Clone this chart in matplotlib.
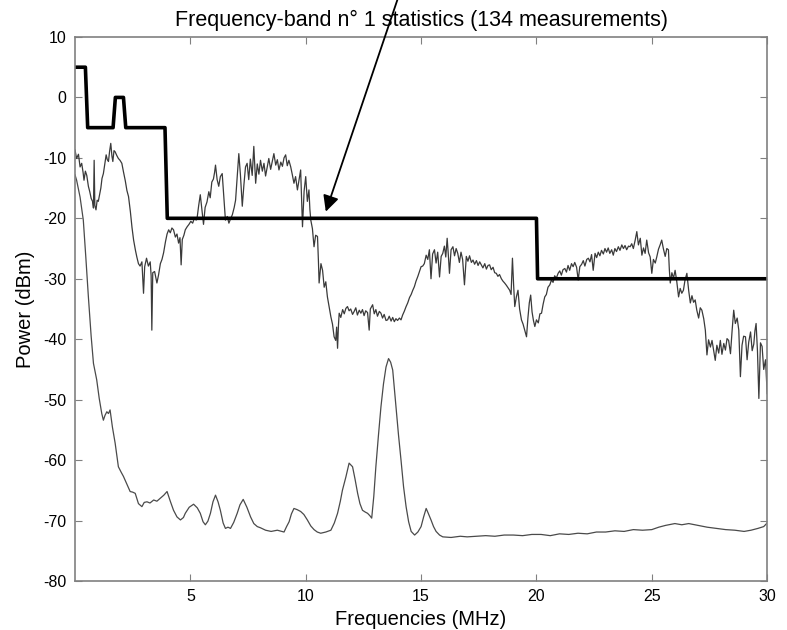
import matplotlib
matplotlib.use("Agg")
import matplotlib.pyplot as plt

plt.rcParams["font.family"] = ["Liberation Sans", "DejaVu Sans"]
plt.rcParams["axes.unicode_minus"] = False

# emission mask (thick step line)
mask_mhz = [0, 0.45, 0.55, 1.65, 1.75, 2.1, 2.2, 3.9, 4.0, 20.0, 20.05, 30]
mask_dbm = [5, 5, -5, -5, 0, 0, -5, -5, -20, -20, -30, -30]

# upper (noisy) spectrum
upper_pts = [
    (0.00, -8.7), (0.07, -10.1), (0.15, -9.4), (0.22, -11.5), (0.29, -10.9), (0.35, -12.4),
    (0.39, -13.7), (0.45, -12.2), (0.51, -12.9), (0.58, -14.7), (0.64, -15.6), (0.70, -16.7),
    (0.76, -17.2), (0.80, -18.3), (0.83, -10.4), (0.86, -17.9), (0.91, -18.6), (0.96, -17.0),
    (1.01, -17.2), (1.06, -16.2), (1.12, -15.0), (1.17, -13.4), (1.23, -12.6), (1.29, -11.1),
    (1.35, -9.5), (1.40, -10.3), (1.45, -10.6), (1.50, -8.9), (1.55, -7.6), (1.60, -9.7),
    (1.64, -10.6), (1.69, -8.8), (1.74, -9.0), (1.81, -9.6), (1.88, -10.1), (1.95, -10.4),
    (2.03, -10.9), (2.10, -12.3), (2.18, -13.8), (2.25, -15.4), (2.32, -16.4), (2.40, -18.9),
    (2.47, -21.5), (2.54, -23.6), (2.62, -25.3), (2.68, -26.4), (2.75, -27.5), (2.82, -27.9),
    (2.90, -27.2), (2.97, -32.4), (3.02, -28.0), (3.10, -26.6), (3.18, -27.9), (3.26, -27.2),
    (3.30, -29.5), (3.33, -38.5), (3.37, -29.0), (3.45, -28.8), (3.55, -30.7), (3.62, -29.4),
    (3.70, -27.5), (3.77, -26.8), (3.84, -25.7), (3.92, -23.9), (3.99, -22.6), (4.06, -21.9),
    (4.13, -22.4), (4.20, -21.6), (4.27, -21.9), (4.35, -23.1), (4.42, -22.6), (4.49, -24.1),
    (4.55, -23.2), (4.60, -27.7), (4.65, -23.5), (4.72, -22.8), (4.78, -21.9), (4.86, -21.4),
    (4.94, -21.0), (5.02, -20.5), (5.10, -20.8), (5.18, -19.9), (5.25, -20.3), (5.29, -20.0),
    (5.36, -17.9), (5.43, -16.1), (5.50, -18.6), (5.57, -21.0), (5.64, -18.2), (5.72, -17.3),
    (5.80, -15.6), (5.86, -16.6), (5.93, -14.0), (6.00, -13.5), (6.05, -12.4), (6.09, -11.2),
    (6.16, -13.6), (6.23, -14.7), (6.30, -13.1), (6.38, -12.6), (6.45, -16.5), (6.52, -20.3),
    (6.60, -19.7), (6.67, -20.8), (6.74, -20.1), (6.82, -19.4), (6.90, -18.2), (6.96, -17.0),
    (7.03, -13.2), (7.10, -9.3), (7.17, -12.8), (7.25, -18.0), (7.32, -14.5), (7.39, -11.5),
    (7.46, -10.9), (7.53, -13.6), (7.60, -10.2), (7.68, -12.9), (7.75, -8.1), (7.83, -14.2),
    (7.90, -11.0), (7.97, -12.7), (8.04, -10.4), (8.12, -12.2), (8.19, -10.9), (8.26, -13.0),
    (8.33, -11.5), (8.40, -10.1), (8.48, -11.9), (8.55, -10.6), (8.62, -9.3), (8.70, -11.2),
    (8.77, -10.3), (8.84, -12.0), (8.92, -10.7), (8.99, -11.4), (9.06, -10.0), (9.13, -9.5),
    (9.20, -11.3), (9.27, -10.4), (9.35, -11.5), (9.42, -12.8), (9.49, -14.2), (9.56, -13.1),
    (9.64, -15.3), (9.71, -13.6), (9.78, -12.0), (9.82, -16.8), (9.86, -21.4), (9.93, -15.5),
    (10.00, -13.1), (10.07, -17.2), (10.14, -15.3), (10.18, -18.5), (10.22, -20.3), (10.29, -21.7),
    (10.36, -24.7), (10.43, -22.8), (10.51, -23.0), (10.55, -27.0), (10.58, -30.7), (10.66, -27.5),
    (10.73, -28.6), (10.80, -31.4), (10.87, -30.5), (10.94, -33.0), (11.02, -34.8), (11.09, -36.3),
    (11.16, -37.5), (11.23, -39.6), (11.30, -40.2), (11.34, -38.0), (11.38, -41.5), (11.42, -37.6),
    (11.45, -35.7), (11.52, -36.4), (11.60, -35.1), (11.67, -35.8), (11.74, -34.9), (11.81, -34.6),
    (11.88, -35.3), (11.95, -35.0), (12.03, -35.9), (12.10, -35.4), (12.17, -34.8), (12.24, -36.0),
    (12.32, -35.2), (12.39, -35.7), (12.46, -35.1), (12.53, -36.1), (12.60, -35.3), (12.68, -35.6),
    (12.75, -38.5), (12.80, -35.0), (12.90, -34.3), (12.97, -35.8), (13.04, -35.1), (13.11, -36.2),
    (13.19, -35.4), (13.26, -35.7), (13.33, -36.5), (13.40, -35.9), (13.48, -36.9), (13.55, -36.8),
    (13.62, -36.2), (13.70, -37.0), (13.77, -36.4), (13.84, -37.1), (13.91, -36.6), (13.98, -36.9),
    (14.06, -36.5), (14.13, -36.8), (14.20, -36.0), (14.27, -35.4), (14.35, -34.6), (14.42, -34.0),
    (14.50, -33.1), (14.57, -32.6), (14.64, -31.9), (14.71, -31.3), (14.78, -30.4), (14.86, -29.6),
    (14.93, -28.8), (15.00, -28.0), (15.07, -27.9), (15.14, -27.5), (15.22, -26.1), (15.29, -26.8),
    (15.36, -25.2), (15.43, -30.0), (15.50, -25.9), (15.58, -25.2), (15.65, -27.4), (15.72, -25.6),
    (15.80, -29.7), (15.87, -26.3), (15.94, -25.8), (16.01, -24.6), (16.07, -26.4), (16.13, -23.3),
    (16.18, -26.0), (16.23, -29.1), (16.30, -25.2), (16.38, -24.7), (16.45, -26.2), (16.52, -25.0),
    (16.59, -25.8), (16.66, -27.3), (16.73, -25.6), (16.80, -26.8), (16.88, -31.0), (16.96, -26.3),
    (17.03, -27.1), (17.10, -26.2), (17.18, -27.3), (17.25, -26.9), (17.32, -27.6), (17.40, -27.0),
    (17.47, -27.8), (17.54, -27.2), (17.61, -27.7), (17.68, -28.2), (17.76, -27.5), (17.83, -28.4),
    (17.90, -27.8), (17.97, -27.7), (18.04, -28.5), (18.12, -28.1), (18.19, -29.0), (18.26, -29.1),
    (18.33, -29.6), (18.40, -29.3), (18.48, -30.0), (18.55, -30.4), (18.62, -30.7), (18.70, -31.1),
    (18.77, -31.5), (18.84, -31.9), (18.90, -32.6), (18.96, -26.6), (19.01, -31.0), (19.06, -34.6),
    (19.13, -33.0), (19.20, -31.9), (19.27, -35.0), (19.35, -36.8), (19.42, -37.5), (19.50, -38.6),
    (19.57, -39.6), (19.63, -36.5), (19.69, -34.0), (19.75, -32.7), (19.81, -35.5), (19.87, -36.9),
    (19.93, -37.9), (20.00, -36.8), (20.08, -37.3), (20.15, -35.8), (20.22, -35.7), (20.29, -34.2),
    (20.36, -33.0), (20.43, -32.6), (20.50, -31.4), (20.58, -31.0), (20.65, -30.2), (20.72, -30.6),
    (20.79, -29.5), (20.86, -29.9), (20.94, -29.1), (21.01, -28.7), (21.08, -29.4), (21.15, -28.5),
    (21.23, -28.3), (21.30, -28.9), (21.37, -27.8), (21.44, -28.6), (21.52, -27.5), (21.59, -28.0),
    (21.66, -27.3), (21.74, -28.1), (21.81, -30.2), (21.88, -28.0), (21.96, -27.6), (22.03, -27.0),
    (22.10, -27.9), (22.18, -26.8), (22.25, -26.6), (22.32, -27.2), (22.39, -26.0), (22.46, -28.6),
    (22.54, -25.8), (22.61, -26.5), (22.68, -25.6), (22.75, -26.2), (22.82, -25.3), (22.90, -25.9),
    (22.97, -25.0), (23.04, -25.6), (23.11, -24.9), (23.18, -25.8), (23.26, -25.2), (23.33, -26.1),
    (23.40, -25.0), (23.47, -25.5), (23.55, -24.7), (23.62, -25.3), (23.70, -24.4), (23.77, -25.0),
    (23.84, -24.5), (23.91, -25.2), (23.99, -24.6), (24.06, -24.7), (24.13, -24.2), (24.20, -25.0),
    (24.28, -23.6), (24.35, -22.2), (24.42, -24.4), (24.50, -23.3), (24.57, -26.1), (24.64, -24.9),
    (24.71, -25.8), (24.78, -23.6), (24.86, -25.7), (24.93, -26.4), (25.00, -29.1), (25.07, -26.8),
    (25.15, -27.4), (25.22, -26.3), (25.29, -25.1), (25.36, -24.4), (25.43, -23.6), (25.50, -25.0),
    (25.58, -26.3), (25.65, -25.0), (25.72, -25.2), (25.76, -28.5), (25.80, -30.7), (25.87, -29.0),
    (25.94, -29.9), (26.01, -28.6), (26.08, -30.4), (26.16, -33.0), (26.23, -31.6), (26.30, -32.4),
    (26.37, -31.9), (26.44, -30.2), (26.52, -29.1), (26.60, -32.0), (26.67, -34.0), (26.74, -32.8),
    (26.81, -33.9), (26.88, -33.5), (26.95, -35.2), (27.03, -36.5), (27.10, -34.8), (27.17, -35.2),
    (27.25, -36.6), (27.32, -38.5), (27.39, -42.6), (27.46, -40.1), (27.54, -41.3), (27.61, -40.2),
    (27.68, -41.9), (27.75, -43.5), (27.82, -41.0), (27.90, -42.3), (27.97, -40.2), (28.04, -42.5),
    (28.12, -40.7), (28.19, -41.8), (28.26, -39.9), (28.33, -40.2), (28.41, -42.4), (28.48, -38.6),
    (28.55, -35.2), (28.62, -37.4), (28.70, -36.5), (28.77, -38.5), (28.84, -46.2), (28.91, -41.0),
    (28.98, -39.5), (29.06, -39.6), (29.13, -43.4), (29.20, -40.5), (29.28, -38.8), (29.35, -41.9),
    (29.42, -40.8), (29.47, -38.6), (29.52, -37.4), (29.58, -42.0), (29.64, -49.8), (29.71, -40.6),
    (29.78, -41.2), (29.85, -45.0), (29.93, -43.4), (30.00, -49.0),
]

# lower (smooth) spectrum
lower_pts = [
    (0.00, -12.8), (0.07, -13.7), (0.22, -16.5), (0.36, -20.3), (0.47, -26.5), (0.58, -33.0),
    (0.70, -39.5), (0.80, -44.0), (0.94, -46.7), (1.05, -49.8), (1.16, -52.3), (1.23, -53.4),
    (1.30, -52.6), (1.38, -52.0), (1.45, -52.3), (1.52, -51.7), (1.62, -54.5), (1.74, -57.2),
    (1.88, -61.1), (2.00, -62.0), (2.10, -62.7), (2.25, -64.0), (2.39, -65.2), (2.50, -65.3),
    (2.61, -65.5), (2.75, -67.2), (2.90, -67.7), (3.00, -67.0), (3.12, -66.9), (3.25, -67.1),
    (3.41, -66.6), (3.55, -66.8), (3.70, -66.3), (3.85, -65.8), (3.99, -65.2), (4.13, -66.8),
    (4.27, -68.3), (4.42, -69.4), (4.57, -69.9), (4.70, -69.5), (4.78, -68.8), (4.95, -67.8),
    (5.14, -67.3), (5.30, -67.9), (5.43, -68.8), (5.55, -70.2), (5.65, -70.7), (5.76, -70.1),
    (5.87, -68.8), (5.98, -66.9), (6.09, -65.8), (6.20, -66.9), (6.30, -68.3), (6.42, -70.4),
    (6.52, -71.3), (6.63, -71.1), (6.74, -71.3), (6.88, -70.3), (7.03, -68.8), (7.15, -67.4),
    (7.29, -66.5), (7.45, -67.8), (7.61, -69.4), (7.75, -70.5), (7.90, -71.0), (8.04, -71.2),
    (8.26, -71.6), (8.50, -71.8), (8.77, -71.6), (9.06, -71.9), (9.17, -71.0), (9.28, -70.2),
    (9.38, -68.9), (9.49, -68.0), (9.63, -68.2), (9.78, -68.5), (9.92, -69.0), (10.07, -69.9),
    (10.22, -70.9), (10.36, -71.5), (10.50, -71.9), (10.65, -72.1), (10.87, -71.9), (11.09, -71.6),
    (11.24, -70.4), (11.38, -68.8), (11.50, -66.8), (11.59, -65.0), (11.74, -62.8), (11.88, -60.5),
    (12.03, -61.1), (12.14, -63.2), (12.25, -65.5), (12.35, -67.2), (12.46, -68.3), (12.58, -68.6),
    (12.68, -68.8), (12.78, -69.2), (12.86, -69.6), (12.95, -66.0), (13.04, -61.1), (13.15, -56.0),
    (13.26, -51.2), (13.37, -47.4), (13.48, -44.6), (13.59, -43.2), (13.68, -43.8), (13.77, -45.1),
    (13.91, -51.2), (14.02, -55.8), (14.13, -60.0), (14.24, -64.4), (14.35, -67.7), (14.46, -70.2),
    (14.57, -71.8), (14.72, -72.4), (14.86, -71.9), (15.00, -71.0), (15.11, -69.4), (15.22, -68.0),
    (15.30, -68.7), (15.43, -69.9), (15.54, -71.0), (15.65, -71.8), (15.80, -72.4), (15.94, -72.7),
    (16.30, -72.8), (16.70, -72.6), (17.00, -72.7), (17.40, -72.6), (17.80, -72.5), (18.20, -72.6),
    (18.60, -72.4), (19.00, -72.4), (19.40, -72.5), (19.80, -72.3), (20.20, -72.3), (20.60, -72.5),
    (21.00, -72.2), (21.40, -72.3), (21.80, -72.1), (22.20, -72.2), (22.60, -71.9), (23.00, -71.9),
    (23.40, -71.7), (23.80, -71.8), (24.20, -71.5), (24.60, -71.6), (25.00, -71.5), (25.30, -71.1),
    (25.60, -70.8), (26.00, -70.5), (26.30, -70.7), (26.60, -70.5), (27.00, -70.8), (27.40, -71.1),
    (27.80, -71.3), (28.20, -71.5), (28.60, -71.6), (29.00, -71.8), (29.30, -71.6), (29.60, -71.3),
    (29.85, -71.0), (30.00, -70.4),
]

upper_mhz, upper_dbm = zip(*upper_pts)
lower_mhz, lower_dbm = zip(*lower_pts)

arrow_tip = (10.87, -18.9)

fig = plt.figure(figsize=(7.87, 6.30), dpi=100)
ax = fig.add_axes([0.0953, 0.0778, 0.8795, 0.8635])

ax.plot(lower_mhz, lower_dbm, color="#4a4a4a", lw=0.9)
ax.plot(upper_mhz, upper_dbm, color="#3a3a3a", lw=0.9)
ax.plot(mask_mhz, mask_dbm, color="black", lw=2.6)

ax.annotate("", xy=arrow_tip, xycoords="data",
            xytext=(398, 632), textcoords="figure pixels",
            arrowprops=dict(arrowstyle="-|>", color="black", lw=1.3,
                            mutation_scale=24, shrinkA=0, shrinkB=0),
            annotation_clip=False)

ax.set_xlim(0, 30)
ax.set_ylim(-80, 10)
ax.set_xticks([5, 10, 15, 20, 25, 30])
ax.set_yticks(range(-80, 11, 10))
ax.tick_params(direction="in", top=True, right=True, length=5,
               color="#808080", labelsize=11.5, pad=6)
for s in ax.spines.values():
    s.set_color("#808080")
    s.set_linewidth(1.2)

ax.set_title("Frequency-band n° 1 statistics (134 measurements)", fontsize=15.5, pad=8)
ax.set_xlabel("Frequencies (MHz)", fontsize=14.5, labelpad=4)
ax.set_ylabel("Power (dBm)", fontsize=14.5, labelpad=6)

fig.savefig("out.png", dpi=100)
